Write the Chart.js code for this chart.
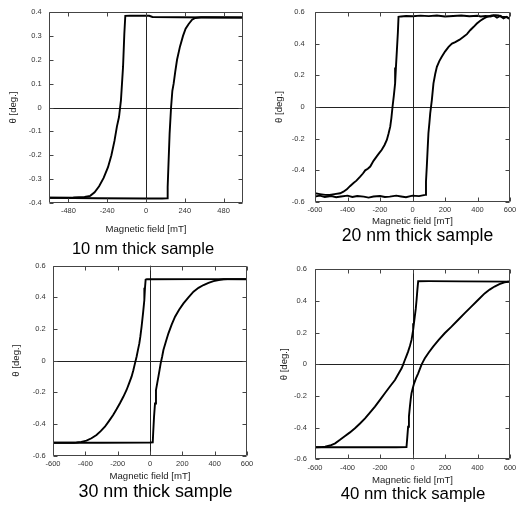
<!DOCTYPE html>
<html><head><meta charset="utf-8">
<script src="https://cdn.jsdelivr.net/npm/chart.js@4.4.1/dist/chart.umd.min.js"></script>
<style>
html,body{margin:0;padding:0;background:#fff}
body{width:516px;height:506px;position:relative;overflow:hidden;font-family:"Liberation Sans",Arial,sans-serif}
canvas{position:absolute}
.cap{position:absolute;white-space:nowrap;transform:translate(-50%,-50%);color:#000;line-height:1}
</style></head><body>
<canvas id="c10" width="258" height="253" style="left:0;top:0"></canvas>
<canvas id="c20" width="258" height="253" style="left:258px;top:0"></canvas>
<canvas id="c30" width="258" height="253" style="left:0;top:253px"></canvas>
<canvas id="c40" width="258" height="253" style="left:258px;top:253px"></canvas>
<div class="cap" style="left:143px;top:247.5px;font-size:16.5px">10 nm thick sample</div>
<div class="cap" style="left:417.5px;top:236px;font-size:17.6px">20 nm thick sample</div>
<div class="cap" style="left:155.5px;top:491.7px;font-size:17.9px">30 nm thick sample</div>
<div class="cap" style="left:413px;top:494px;font-size:16.8px">40 nm thick sample</div>
<script>
// ---- tick labels ----
const xTicks10 = [-480, -240, 0, 240, 480];
const yTicks10 = [-0.4, -0.3, -0.2, -0.1, 0, 0.1, 0.2, 0.3, 0.4];
const xTicks = [-600, -400, -200, 0, 200, 400, 600];
const yTicks = [-0.6, -0.4, -0.2, 0, 0.2, 0.4, 0.6];
const captions = ["10 nm thick sample", "20 nm thick sample", "30 nm thick sample", "40 nm thick sample"];

// ---- 10 nm: descending branch (field from +600 to -600) ----
const h10_downX = [600, 400, 200, 40, 20, -100, -128, -134, -142, -155, -167, -180, -195, -214, -235, -262, -290, -318, -345, -380, -450, -600];
const h10_downY = [0.377, 0.377, 0.378, 0.379, 0.384, 0.385, 0.384, 0.31, 0.17, 0.03, -0.04, -0.08, -0.14, -0.2, -0.25, -0.295, -0.33, -0.355, -0.37, -0.375, -0.377, -0.378];
// ---- 10 nm: ascending branch (field from -600 to +600) ----
const h10_upX = [-600, -300, 0, 100, 130, 134, 140, 146, 155, 163, 171, 181, 192, 210, 229, 245, 264, 285, 305, 340, 400, 600];
const h10_upY = [-0.378, -0.38, -0.381, -0.381, -0.38, -0.334, -0.22, -0.11, 0.0, 0.07, 0.1, 0.15, 0.2, 0.255, 0.3, 0.33, 0.35, 0.368, 0.375, 0.378, 0.378, 0.377];

// ---- 20 nm ----
const h20_downX = [600, 580, 560, 540, 520, 500, 480, 450, 420, 400, 350, 300, 250, 200, 150, 100, 50, 0, -40, -70, -86, -90, -96, -102, -107, -115, -123, -130, -137, -148, -158, -172, -189, -204, -219, -240, -260, -275, -291, -305, -322, -345, -363, -385, -404, -425, -445, -480, -510, -537, -570, -600];
const h20_downY = [0.555, 0.57, 0.56, 0.575, 0.565, 0.578, 0.572, 0.575, 0.572, 0.576, 0.573, 0.578, 0.575, 0.572, 0.578, 0.574, 0.577, 0.573, 0.575, 0.572, 0.569, 0.47, 0.359, 0.25, 0.149, 0.07, 0.0, -0.07, -0.124, -0.17, -0.208, -0.24, -0.27, -0.29, -0.31, -0.34, -0.376, -0.39, -0.4, -0.42, -0.44, -0.465, -0.48, -0.5, -0.52, -0.535, -0.545, -0.55, -0.556, -0.555, -0.55, -0.545];
const h20_upX = [-600, -570, -540, -500, -470, -440, -400, -370, -340, -300, -270, -240, -200, -170, -140, -100, -70, -40, 0, 40, 78, 83, 88, 93, 98, 104, 109, 119, 129, 140, 150, 165, 180, 200, 222, 243, 263, 290, 314, 335, 355, 375, 396, 417, 437, 460, 488, 510, 529, 550, 570, 585, 600];
const h20_upY = [-0.565, -0.56, -0.568, -0.562, -0.57, -0.565, -0.56, -0.568, -0.562, -0.566, -0.572, -0.565, -0.562, -0.568, -0.566, -0.56, -0.565, -0.57, -0.56, -0.563, -0.555, -0.47, -0.376, -0.27, -0.166, -0.1, -0.04, 0.044, 0.149, 0.21, 0.254, 0.29, 0.317, 0.35, 0.38, 0.4, 0.41, 0.425, 0.443, 0.46, 0.485, 0.505, 0.527, 0.545, 0.558, 0.57, 0.579, 0.58, 0.579, 0.57, 0.569, 0.565, 0.558];

// ---- 30 nm ----
const h30_downX = [600, 300, 0, -20, -27, -31, -35, -43, -52, -60, -66, -75, -83, -93, -103, -114, -130, -145, -165, -186, -207, -228, -253, -279, -305, -331, -362, -393, -425, -455, -470, -500, -600];
const h30_downY = [0.514, 0.515, 0.514, 0.514, 0.512, 0.46, 0.383, 0.3, 0.215, 0.15, 0.109, 0.065, 0.025, -0.017, -0.06, -0.101, -0.145, -0.185, -0.228, -0.269, -0.307, -0.343, -0.38, -0.417, -0.445, -0.469, -0.49, -0.505, -0.513, -0.517, -0.518, -0.518, -0.518];
const h30_upX = [-600, -300, 0, 17, 20, 25, 31, 37, 45, 52, 59, 66, 75, 83, 98, 114, 134, 155, 180, 207, 238, 269, 300, 331, 362, 393, 425, 455, 480, 600];
const h30_upY = [-0.518, -0.518, -0.517, -0.516, -0.45, -0.354, -0.27, -0.185, -0.14, -0.101, -0.06, -0.017, 0.025, 0.067, 0.12, 0.173, 0.228, 0.278, 0.322, 0.362, 0.4, 0.436, 0.46, 0.478, 0.492, 0.503, 0.51, 0.514, 0.515, 0.515];

// ---- 40 nm ----
const h40_downX = [600, 300, 100, 35, 30, 25, 20, 14, 9, 4, -1, -6, -16, -27, -37, -47, -57, -67, -88, -108, -140, -170, -200, -231, -262, -292, -323, -354, -385, -415, -446, -476, -507, -538, -560, -600];
const h40_downY = [0.522, 0.524, 0.525, 0.525, 0.47, 0.406, 0.35, 0.301, 0.26, 0.217, 0.185, 0.154, 0.115, 0.08, 0.053, 0.027, 0.0, -0.025, -0.063, -0.099, -0.142, -0.183, -0.225, -0.267, -0.305, -0.341, -0.374, -0.404, -0.43, -0.453, -0.477, -0.499, -0.513, -0.52, -0.523, -0.524];
const h40_upX = [-600, -300, -100, -37, -32, -27, -22, -16, -11, -6, 2, 10, 22, 35, 45, 55, 65, 76, 100, 127, 160, 198, 240, 280, 320, 362, 403, 444, 475, 505, 535, 566, 590, 600];
const h40_upY = [-0.524, -0.524, -0.524, -0.523, -0.46, -0.394, -0.33, -0.267, -0.22, -0.183, -0.15, -0.12, -0.088, -0.057, -0.03, -0.004, 0.017, 0.038, 0.075, 0.112, 0.153, 0.196, 0.238, 0.28, 0.322, 0.364, 0.406, 0.448, 0.472, 0.491, 0.506, 0.518, 0.521, 0.522];

const FONT = '"Liberation Sans", Arial, sans-serif';
const zip = (xs, ys) => xs.map((x, i) => ({x: x, y: ys[i]}));

const framePlugin = {
  id: 'frame',
  beforeDatasetsDraw(chart) {
    const {ctx, chartArea: a, scales: {x, y}} = chart;
    ctx.save();
    ctx.strokeStyle = '#222';
    ctx.lineWidth = 1;
    const x0 = Math.round(x.getPixelForValue(0)) + 0.5;
    const y0 = Math.round(y.getPixelForValue(0)) + 0.5;
    ctx.beginPath();
    ctx.moveTo(x0, a.top); ctx.lineTo(x0, a.bottom);
    ctx.moveTo(a.left, y0); ctx.lineTo(a.right, y0);
    ctx.stroke();
    ctx.restore();
  },
  afterDatasetsDraw(chart) {
    const {ctx, chartArea: a, scales: {x, y}} = chart;
    ctx.save();
    ctx.strokeStyle = '#444';
    ctx.lineWidth = 1;
    ctx.beginPath();
    const L = Math.round(a.left) + 0.5, R = Math.round(a.right) - 0.5;
    const T = Math.round(a.top) + 0.5, B = Math.round(a.bottom) - 0.5;
    ctx.rect(L, T, R - L, B - T);
    const tl = 4;
    x.ticks.forEach(t => {
      const px = Math.round(x.getPixelForValue(t.value)) + 0.5;
      ctx.moveTo(px, B); ctx.lineTo(px, B - tl);
      ctx.moveTo(px, T); ctx.lineTo(px, T + tl);
    });
    y.ticks.forEach(t => {
      const py = Math.round(y.getPixelForValue(t.value)) + 0.5;
      ctx.moveTo(L, py); ctx.lineTo(L + tl, py);
      ctx.moveTo(R, py); ctx.lineTo(R - tl, py);
    });
    ctx.stroke();
    ctx.restore();
  }
};

function makeChart(id, p) {
  const W = 258, H = 253;
  const sb = p.titleY + 5.76;
  new Chart(document.getElementById(id), {
    type: 'scatter',
    data: {datasets: [
      {data: zip(p.dx, p.dy), showLine: true, borderColor: '#000', borderWidth: 1.9, pointRadius: 0, tension: 0, fill: false},
      {data: zip(p.ux, p.uy), showLine: true, borderColor: '#000', borderWidth: 1.9, pointRadius: 0, tension: 0, fill: false}
    ]},
    options: {
      responsive: false, animation: false, devicePixelRatio: 1,
      plugins: {legend: {display: false}, tooltip: {enabled: false}, title: {display: false}},
      layout: {padding: {left: 0, top: p.T, right: W - p.R, bottom: H - sb}},
      scales: {
        x: {
          type: 'linear', min: p.xmin, max: p.xmax,
          grid: {display: false, drawTicks: false}, border: {display: false},
          ticks: {autoSkip: false, maxRotation: 0, padding: p.xPad, color: '#333', font: {family: FONT, size: 7.5}, callback: v => String(v)},
          title: {display: true, text: 'Magnetic field [mT]', color: '#222', font: {family: FONT, size: 9.6}, padding: 0},
          afterBuildTicks: s => { s.ticks = p.xt.map(v => ({value: v})); },
          afterFit: s => { s.height = sb - p.B; s.paddingLeft = 0; s.paddingRight = 0; }
        },
        y: {
          type: 'linear', min: p.ymin, max: p.ymax,
          grid: {display: false, drawTicks: false}, border: {display: false},
          ticks: {autoSkip: false, padding: p.yPad, color: '#333', font: {family: FONT, size: 7.5}, callback: v => String(v)},
          title: {display: true, text: 'θ [deg.]', color: '#222', font: {family: FONT, size: 9.6}, padding: {top: p.yTitle, bottom: 0}},
          afterBuildTicks: s => { s.ticks = p.yt.map(v => ({value: v})); },
          afterFit: s => { s.width = p.L; s.paddingTop = 0; s.paddingBottom = 0; }
        }
      }
    },
    plugins: [framePlugin]
  });
}

makeChart('c10', {dx: h10_downX, dy: h10_downY, ux: h10_upX, uy: h10_upY, xt: xTicks10, yt: yTicks10,
  xmin: -600, xmax: 600, ymin: -0.4, ymax: 0.4, L: 49, R: 243, T: 12, B: 203, xPad: 3.2, titleY: 229, yPad: 7.3, yTitle: 7.2});
makeChart('c20', {dx: h20_downX, dy: h20_downY, ux: h20_upX, uy: h20_upY, xt: xTicks, yt: yTicks,
  xmin: -600, xmax: 600, ymin: -0.6, ymax: 0.6, L: 57, R: 252, T: 12, B: 202, xPad: 3.5, titleY: 221.5, yPad: 10.3, yTitle: 15.9});
makeChart('c30', {dx: h30_downX, dy: h30_downY, ux: h30_upX, uy: h30_upY, xt: xTicks, yt: yTicks,
  xmin: -600, xmax: 600, ymin: -0.6, ymax: 0.6, L: 53, R: 247, T: 12.7, B: 202.7, xPad: 3.8, titleY: 223, yPad: 7.3, yTitle: 10.2});
makeChart('c40', {dx: h40_downX, dy: h40_downY, ux: h40_upX, uy: h40_upY, xt: xTicks, yt: yTicks,
  xmin: -600, xmax: 600, ymin: -0.6, ymax: 0.6, L: 57, R: 252, T: 16.3, B: 206.3, xPad: 4.2, titleY: 227, yPad: 8, yTitle: 20.2});
</script>
</body></html>
